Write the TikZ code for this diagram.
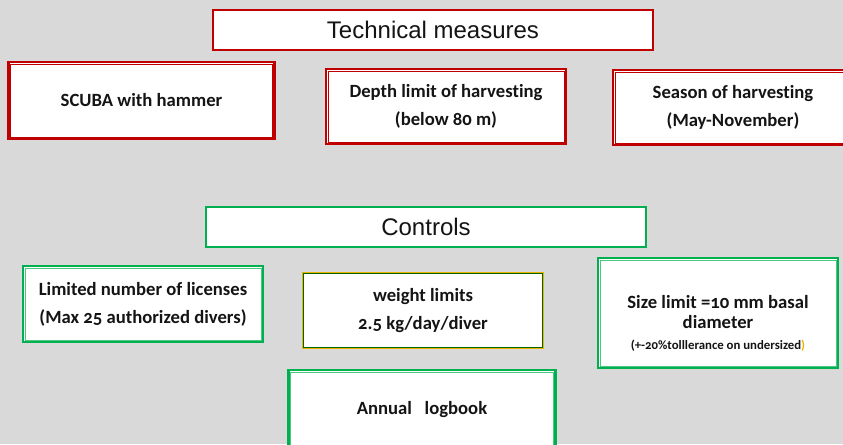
\documentclass[tikz,border=0pt]{standalone}
\usepackage{fontspec}
\setmainfont{Carlito}[Numbers=OldStyle,Ligatures=NoCommon]
\newfontfamily\headfont{Liberation Sans}
\usetikzlibrary{positioning}
\definecolor{fmInk}  {HTML}{141414}
\definecolor{fmRed}  {HTML}{C00000}
\definecolor{fmGreen}{HTML}{00B050}
\definecolor{fmGold} {HTML}{F0B000}
\definecolor{fmBack} {HTML}{D9D9D9}
\tikzset{
  headbox/.style={fill=white,line width=2.2pt,minimum width=330pt,minimum height=30pt,
                  font=\headfont\fontsize{18}{20}\selectfont,text=fmInk},
  itembox/.style={fill=white,line width=2.2pt,align=center,text=fmInk,
                  font=\bfseries\fontsize{14}{21}\selectfont},
  innerline/.style={line width=0.7pt},
}
\begin{document}
\begin{tikzpicture}[x=0.75pt,y=-0.75pt]
  \fill[fmBack] (0,0) rectangle (843,444);
  \clip (0,0) rectangle (843,444);

  % technical measures
  \node[headbox,draw=fmRed] (tech) at (433,30) {Technical measures};
  \node[itembox,draw=fmRed,minimum width=200pt,minimum height=57.75pt] (scuba) at (141.5,100.5)
       {SCUBA with hammer};
  \node[itembox,draw=fmRed,minimum width=180pt,minimum height=56.25pt] (depth) at (446,106.5)
       {Depth limit of harvesting\\(below 80 m)};
  \node[itembox,draw=fmRed,minimum width=180pt,minimum height=56.25pt] (season) at (733,107.5)
       {Season of harvesting\\(May-November)};
  \foreach \b in {scuba,depth,season}
    \draw[innerline,fmRed] ([shift={(2.6pt,-2.6pt)}]\b.north west) rectangle ([shift={(-2.6pt,2.6pt)}]\b.south east);

  % controls
  \node[headbox,draw=fmGreen] (ctrl) at (426,227) {Controls};
  \node[itembox,draw=fmGreen,minimum width=180pt,minimum height=57pt] (licence) at (143,304)
       {Limited number of licenses\\(Max 25 authorized divers)};
  \node[itembox,draw=fmGold,line width=1.8pt,minimum width=180pt,minimum height=56.25pt] (weight) at (423,310.5)
       {weight limits\\2.5 kg/day/diver};
  \draw[innerline,green!40!black,line width=0.5pt] ([shift={(1.5pt,-1.5pt)}]weight.north west) rectangle ([shift={(-1.5pt,1.5pt)}]weight.south east);
  \node[itembox,draw=fmGreen,minimum width=180pt,minimum height=82.5pt] (size) at (718,313) {};
  \node[align=center,text=fmInk,font=\bfseries\fontsize{14}{15}\selectfont] (sizetext) at ([yshift=-8pt]size.center)
       {Size limit =10 mm basal\\diameter\\[1pt]
        {\fontsize{9.6}{10}\selectfont(+-20\%tolllerance on undersized\textcolor{fmGold}{)}}};
  \node[itembox,draw=fmGreen,minimum width=200pt,minimum height=60pt] (logbook) at (422,410)
       {Annual~~ logbook};
  \foreach \b in {licence,size,logbook}
    \draw[innerline,fmGreen!70] ([shift={(2.6pt,-2.6pt)}]\b.north west) rectangle ([shift={(-2.6pt,2.6pt)}]\b.south east);
\end{tikzpicture}
\end{document}
